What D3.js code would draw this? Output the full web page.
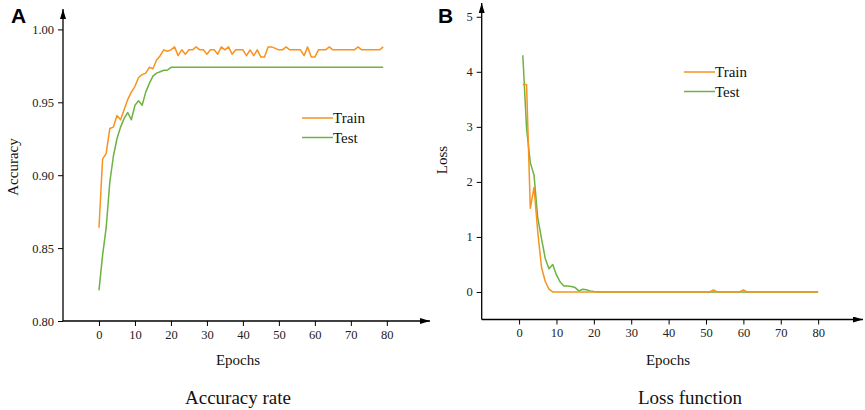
<!DOCTYPE html>
<html>
<head>
<meta charset="utf-8">
<script src="https://cdn.jsdelivr.net/npm/d3@7"></script>
<style>
  body { margin: 0; background: #fff; }
  .label { font-family: 'Liberation Serif', 'Times New Roman', serif; fill: #111; }
  .panel { font-family: 'Liberation Sans', Arial, sans-serif; font-weight: bold; font-size: 21px; fill: #000; }
</style>
</head>
<body>
<div id="chart"></div>
<script>
// accuracy per epoch (epoch = index, 0..79)
const trainAcc = [
  0.864, 0.911, 0.915, 0.932, 0.933, 0.941, 0.938, 0.945, 0.952, 0.957,
  0.961, 0.967, 0.969, 0.970, 0.974, 0.973, 0.979, 0.982, 0.986, 0.985,
  0.986, 0.988, 0.982, 0.986, 0.983, 0.986, 0.986, 0.988, 0.986, 0.986,
  0.983, 0.986, 0.986, 0.983, 0.988, 0.986, 0.988, 0.983, 0.986, 0.986,
  0.986, 0.982, 0.986, 0.982, 0.986, 0.981, 0.981, 0.988, 0.988, 0.987,
  0.986, 0.986, 0.988, 0.986, 0.986, 0.986, 0.986, 0.982, 0.988, 0.981,
  0.981, 0.986, 0.986, 0.986, 0.988, 0.986, 0.986, 0.986, 0.986, 0.986,
  0.986, 0.986, 0.988, 0.986, 0.986, 0.986, 0.986, 0.986, 0.986, 0.988
];
const testAcc = [
  0.821, 0.845, 0.864, 0.895, 0.913, 0.925, 0.933, 0.939, 0.943, 0.938,
  0.948, 0.951, 0.948, 0.957, 0.963, 0.968, 0.970, 0.971, 0.972, 0.972,
  0.974, 0.974, 0.974, 0.974, 0.974, 0.974, 0.974, 0.974, 0.974, 0.974,
  0.974, 0.974, 0.974, 0.974, 0.974, 0.974, 0.974, 0.974, 0.974, 0.974,
  0.974, 0.974, 0.974, 0.974, 0.974, 0.974, 0.974, 0.974, 0.974, 0.974,
  0.974, 0.974, 0.974, 0.974, 0.974, 0.974, 0.974, 0.974, 0.974, 0.974,
  0.974, 0.974, 0.974, 0.974, 0.974, 0.974, 0.974, 0.974, 0.974, 0.974,
  0.974, 0.974, 0.974, 0.974, 0.974, 0.974, 0.974, 0.974, 0.974, 0.974
];

// loss per epoch (epoch = index + 1, 1..80)
const trainLoss = [
  3.77, 3.77, 1.52, 1.90, 1.09, 0.45, 0.19, 0.05, 0, 0,
  0, 0, 0, 0, 0, 0, 0, 0, 0, 0,
  0, 0, 0, 0, 0, 0, 0, 0, 0, 0,
  0, 0, 0, 0, 0, 0, 0, 0, 0, 0,
  0, 0, 0, 0, 0, 0, 0, 0, 0, 0,
  0, 0.04, 0, 0, 0, 0, 0, 0, 0, 0.04,
  0, 0, 0, 0, 0, 0, 0, 0, 0, 0,
  0, 0, 0, 0, 0, 0, 0, 0, 0, 0
];
const testLoss = [
  4.30, 2.97, 2.35, 2.12, 1.34, 0.97, 0.61, 0.42, 0.50, 0.31,
  0.18, 0.11, 0.11, 0.10, 0.08, 0.02, 0.05, 0.04, 0.02, 0.01,
  0.005, 0, 0, 0, 0, 0, 0, 0, 0, 0,
  0, 0, 0, 0, 0, 0, 0, 0, 0, 0,
  0, 0, 0, 0, 0, 0, 0, 0, 0, 0,
  0, 0, 0, 0, 0, 0, 0, 0, 0, 0,
  0, 0, 0, 0, 0, 0, 0, 0, 0, 0,
  0, 0, 0, 0, 0, 0, 0, 0, 0, 0
];

// tick labels
const epochTicks = [0, 10, 20, 30, 40, 50, 60, 70, 80];
const accTicks = [0.80, 0.85, 0.90, 0.95, 1.00];
const lossTicks = [0, 1, 2, 3, 4, 5];
const seriesNames = ['Train', 'Test'];

const orange = '#f7931e';
const green = '#6cb33f';
const serif = "'Liberation Serif', 'Times New Roman', serif";

const width = 865;
const height = 410;

const svg = d3.select('#chart')
  .append('svg')
    .attr('width', width)
    .attr('height', height);

// arrow heads for the axes
const defs = svg.append('defs');
defs.append('marker')
    .attr('id', 'arrow')
    .attr('markerUnits', 'userSpaceOnUse')
    .attr('viewBox', '0 0 10 6')
    .attr('refX', 10)
    .attr('refY', 3)
    .attr('markerWidth', 10)
    .attr('markerHeight', 6)
    .attr('orient', 'auto')
  .append('path')
    .attr('d', 'M0,0 L10,3 L0,6 Z')
    .attr('fill', '#000');

// styles the tick labels of an axis group
function styleAxis (a) {
  a.attr('font-family', serif).attr('font-size', 12.5);
  a.select('.domain').remove();
  a.selectAll('line').attr('stroke', '#000');
  a.selectAll('text').attr('fill', '#222');
}

// draws one panel: axes with arrows, two lines, legend and labels
function drawPanel (opt) {
  const g = svg.append('g');

  // x axis
  g.append('g')
    .attr('transform', `translate(0,${opt.y.range()[0]})`)
    .call(d3.axisBottom(opt.x).tickValues(epochTicks).tickSize(5).tickPadding(4).tickSizeOuter(0))
    .call(styleAxis);

  // y axis
  g.append('g')
    .attr('transform', `translate(${opt.x.range()[0]},0)`)
    .call(d3.axisLeft(opt.y).tickValues(opt.yTicks).tickFormat(opt.yFormat).tickSize(5).tickPadding(4))
    .call(styleAxis);

  // axis lines with arrows
  const x0 = opt.x.range()[0];
  const y0 = opt.y.range()[0];
  g.append('line')
    .attr('x1', x0).attr('y1', y0)
    .attr('x2', opt.x.range()[1]).attr('y2', y0)
    .attr('stroke', '#000').attr('stroke-width', 1.3)
    .attr('marker-end', 'url(#arrow)');
  g.append('line')
    .attr('x1', x0).attr('y1', y0)
    .attr('x2', x0).attr('y2', opt.y.range()[1])
    .attr('stroke', '#000').attr('stroke-width', 1.3)
    .attr('marker-end', 'url(#arrow)');

  // lines
  const line = d3.line()
    .x((d, i) => opt.x(i + opt.firstEpoch))
    .y(d => opt.y(d));
  opt.series.forEach(s => {
    g.append('path')
      .datum(s.values)
      .attr('d', line)
      .attr('fill', 'none')
      .attr('stroke', s.color)
      .attr('stroke-width', 1.5)
      .attr('stroke-linejoin', 'round');
  });

  // legend
  const legend = g.append('g')
    .attr('transform', `translate(${opt.legend[0]},${opt.legend[1]})`);
  seriesNames.forEach((name, i) => {
    const col = i === 0 ? orange : green;
    legend.append('line')
      .attr('x1', 0).attr('x2', 31)
      .attr('y1', i * 19.5).attr('y2', i * 19.5)
      .attr('stroke', col).attr('stroke-width', 1.5);
    legend.append('text')
      .attr('class', 'label')
      .attr('x', 31)
      .attr('y', i * 19.5 + 5)
      .style('font-size', '15px')
      .text(name);
  });

  // axis titles
  g.append('text')
    .attr('class', 'label')
    .attr('x', opt.epochsX).attr('y', 365)
    .attr('text-anchor', 'middle')
    .style('font-size', '15px')
    .text('Epochs');
  g.append('text')
    .attr('class', 'label')
    .attr('transform', `translate(${opt.yLabelX},${opt.yLabelY}) rotate(-90)`)
    .attr('text-anchor', 'middle')
    .style('font-size', '15px')
    .text(opt.yLabel);
  g.append('text')
    .attr('class', 'label')
    .attr('x', opt.captionX).attr('y', 404)
    .attr('text-anchor', 'middle')
    .style('font-size', '19px')
    .text(opt.caption);
  g.append('text')
    .attr('class', 'panel')
    .attr('x', opt.letterX).attr('y', 23)
    .text(opt.letter);
}

// Panel A: accuracy
const xA = d3.scaleLinear().domain([-10, 92]).range([63, 430]);
const yA = d3.scaleLinear().domain([0.80, 1.014]).range([321, 9]);
drawPanel({
  x: xA,
  y: yA,
  yTicks: accTicks,
  yFormat: d3.format('.2f'),
  firstEpoch: 0,
  series: [
    { values: testAcc, color: green },
    { values: trainAcc, color: orange }
  ],
  legend: [302, 118],
  epochsX: 238,
  yLabel: 'Accuracy',
  yLabelX: 18,
  yLabelY: 167,
  caption: 'Accuracy rate',
  captionX: 238,
  letter: 'A',
  letterX: 11
});

// Panel B: loss
const xB = d3.scaleLinear().domain([-10, 92]).range([481.7, 863]);
const yB = d3.scaleLinear().domain([-0.5, 5.25]).range([319.5, 3]);
drawPanel({
  x: xB,
  y: yB,
  yTicks: lossTicks,
  yFormat: d3.format('d'),
  firstEpoch: 1,
  series: [
    { values: testLoss, color: green },
    { values: trainLoss, color: orange }
  ],
  legend: [684, 72],
  epochsX: 668,
  yLabel: 'Loss',
  yLabelX: 447,
  yLabelY: 160,
  caption: 'Loss function',
  captionX: 690,
  letter: 'B',
  letterX: 438
});
</script>
</body>
</html>
